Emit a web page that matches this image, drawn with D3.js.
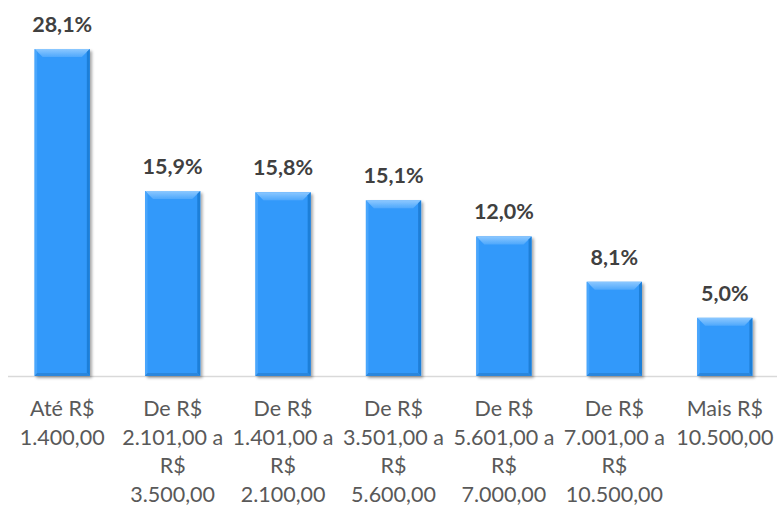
<!DOCTYPE html>
<html>
<head>
<meta charset="utf-8">
<script src="https://cdnjs.cloudflare.com/ajax/libs/d3/7.8.5/d3.min.js"></script>
<style>
  body { margin: 0; background: #fff; }
  svg { display: block; font-family: Lato, "Open Sans", sans-serif; }
  .value-label { font-weight: bold; fill: #404040; font-size: 21.5px; }
  .cat-label { fill: #595959; font-size: 21.5px; }
</style>
</head>
<body>
<svg id="chart" width="777" height="506"></svg>
<script>
// chart data
var categories = ['c1', 'c2', 'c3', 'c4', 'c5', 'c6', 'c7'];
var values = [28.1, 15.9, 15.8, 15.1, 12.0, 8.1, 5.0];
var valueLabels = ['28,1%', '15,9%', '15,8%', '15,1%', '12,0%', '8,1%', '5,0%'];
var tickLabels = [
  ['Até R$', '1.400,00'],
  ['De R$', '2.101,00 a', 'R$', '3.500,00'],
  ['De R$', '1.401,00 a', 'R$', '2.100,00'],
  ['De R$', '3.501,00 a', 'R$', '5.600,00'],
  ['De R$', '5.601,00 a', 'R$', '7.000,00'],
  ['De R$', '7.001,00 a', 'R$', '10.500,00'],
  ['Mais R$', '10.500,00']
];

var svg = d3.select('#chart');
var width = +svg.attr('width');

var padding = {l: 7, r: -3, base: 376, top: 27};
var bevel = 8;

var x = d3.scaleBand()
  .domain(categories)
  .range([padding.l, width - padding.r])
  .paddingInner(0.5)
  .paddingOuter(0.25);

var y = d3.scaleLinear()
  .domain([0, 30])
  .range([padding.base, padding.top]);

var defs = svg.append('defs');
var shadow = defs.append('filter').attr('id', 'shadow')
  .attr('x', '-20%').attr('y', '-20%').attr('width', '140%').attr('height', '140%');
shadow.append('feGaussianBlur').attr('in', 'SourceAlpha').attr('stdDeviation', 1.5);
shadow.append('feOffset').attr('dx', 1.5).attr('dy', 2).attr('result', 'blur');
shadow.append('feComponentTransfer').append('feFuncA').attr('type', 'linear').attr('slope', 0.35);
var merge = shadow.append('feMerge');
merge.append('feMergeNode');
merge.append('feMergeNode').attr('in', 'SourceGraphic');

var topGrad = defs.append('linearGradient').attr('id', 'topGrad')
  .attr('x1', 0).attr('y1', 0).attr('x2', 0).attr('y2', 1);
topGrad.append('stop').attr('offset', 0).attr('stop-color', '#8cc8ff');
topGrad.append('stop').attr('offset', 1).attr('stop-color', '#4ea8fc');

// axis line
svg.append('line')
  .attr('x1', 8).attr('x2', width)
  .attr('y1', padding.base + 0.5).attr('y2', padding.base + 0.5)
  .attr('stroke', '#d9d9d9')
  .attr('stroke-width', 1.5);

var bars = svg.append('g').attr('class', 'bars')
  .selectAll('g')
  .data(categories)
  .enter()
  .append('g')
  .attr('filter', 'url(#shadow)');

function facet(sel, color, pts) {
  sel.append('polygon')
    .attr('fill', color)
    .attr('points', function(d, i) { return pts(d, i).map(function(p) { return p.join(','); }).join(' '); });
}

bars.append('rect')
  .attr('x', function(d) { return x(d); })
  .attr('y', function(d, i) { return y(values[i]); })
  .attr('width', x.bandwidth())
  .attr('height', function(d, i) { return y(0) - y(values[i]); })
  .attr('fill', '#3399fa');

// top bevel
facet(bars, 'url(#topGrad)', function(d, i) {
  var x0 = x(d), x1 = x0 + x.bandwidth(), t = y(values[i]);
  return [[x0, t], [x1, t], [x1 - bevel, t + bevel], [x0 + bevel, t + bevel]];
});
// left side
facet(bars, '#4aa6fc', function(d, i) {
  var x0 = x(d), t = y(values[i]), b = y(0);
  return [[x0, t], [x0 + 2.5, t + 2.5], [x0 + 2.5, b - 2.5], [x0, b]];
});
// right side
facet(bars, '#1f7fd8', function(d, i) {
  var x1 = x(d) + x.bandwidth(), t = y(values[i]), b = y(0);
  return [[x1, t], [x1 - 3, t + 3], [x1 - 3, b - 3], [x1, b]];
});
// bottom edge
facet(bars, '#2a86dc', function(d, i) {
  var x0 = x(d), x1 = x0 + x.bandwidth(), b = y(0);
  return [[x0, b], [x1, b], [x1 - 3, b - 3], [x0 + 2.5, b - 3]];
});

// value labels
svg.append('g').selectAll('text')
  .data(categories)
  .enter()
  .append('text')
  .attr('class', 'value-label')
  .attr('x', function(d) { return x(d) + x.bandwidth() / 2; })
  .attr('y', function(d, i) { return y(values[i]) - 17; })
  .style('text-anchor', 'middle')
  .text(function(d, i) { return valueLabels[i]; });

// category labels
var cat = svg.append('g').selectAll('text')
  .data(categories)
  .enter()
  .append('text')
  .attr('class', 'cat-label')
  .style('text-anchor', 'middle')
  .attr('transform', function(d) { return 'translate(' + (x(d) + x.bandwidth() / 2) + ',416)'; });

cat.selectAll('tspan')
  .data(function(d, i) { return tickLabels[i]; })
  .enter()
  .append('tspan')
  .attr('x', 0)
  .attr('y', function(d, j) { return j * 28.7; })
  .text(function(d) { return d; });
</script>
</body>
</html>
